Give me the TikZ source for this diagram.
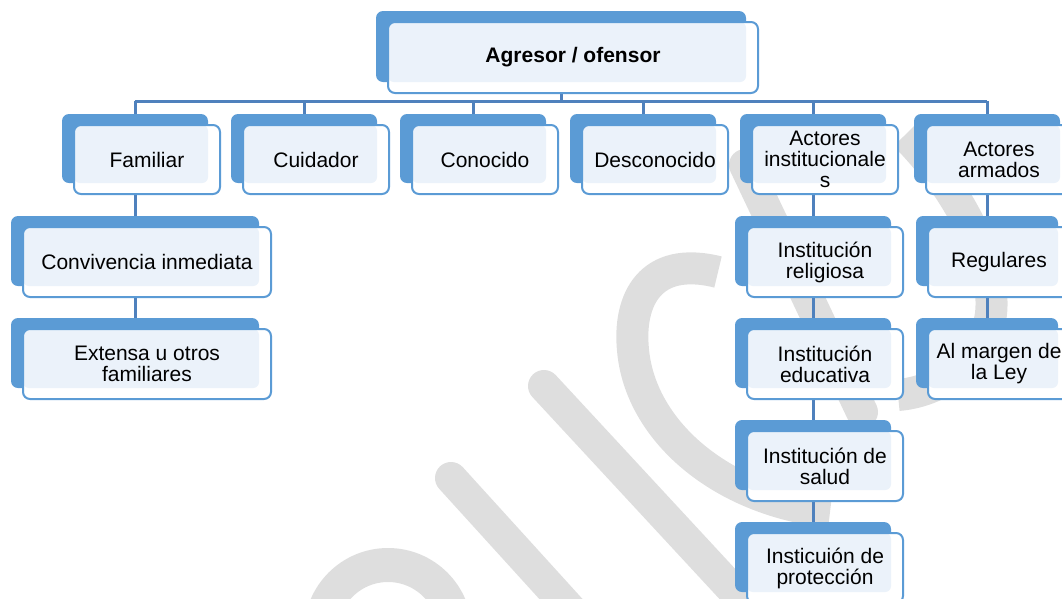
\documentclass[tikz,border=0pt]{standalone}
\usepackage{fontspec}
\setmainfont{Liberation Sans}
\usetikzlibrary{shadows,backgrounds}

\definecolor{boxblue}{HTML}{5B9BD5}
\definecolor{paleblue}{HTML}{EBF2FA}
\definecolor{linkblue}{HTML}{4F81BD}
\definecolor{wgray}{HTML}{DEDEDE}

\tikzset{
  orgbox/.style={draw=boxblue, line width=2pt, rounded corners=7pt,
    fill=white, align=center,
    minimum width=146pt, minimum height=69pt, inner sep=0pt,
    font=\fontsize{21}{21}\selectfont,
    path picture={\fill[paleblue, rounded corners=6pt]
      (path picture bounding box.north west) rectangle
      ([shift={(-12,-11)}]path picture bounding box.south east);},
    general shadow={fill=boxblue, draw=none,
      shadow xshift=-12pt, shadow yshift=11pt}},
  link/.style={draw=linkblue, line width=3pt},
  wband/.style={draw=wgray, line width=32pt}
}

\begin{document}
\begin{tikzpicture}[x=1pt,y=-1pt]
          \useasboundingbox (0,0) rectangle (1062,598);
          \clip (0,0) rectangle (1062,598);
          \node[orgbox, minimum width=370pt, minimum height=71pt, font=\bfseries\fontsize{21}{21}\selectfont] (agr) at (573,57.5) {Agresor / ofensor};
          \node[orgbox] (fam) at (147,159.5) {Familiar};
          \node[orgbox] (cui) at (316,159.5) {Cuidador};
          \node[orgbox] (con) at (485,159.5) {Conocido};
          \node[orgbox] (des) at (655,159.5) {Desconocido};
          \node[orgbox] (ins) at (825,159.5) {Actores\\institucionale\\s};
          \node[orgbox] (arm) at (999,159.5) {Actores\\armados};
          \node[orgbox, minimum width=248pt, minimum height=70pt] (conv) at (147,262) {Convivencia inmediata};
          \node[orgbox, minimum width=248pt, minimum height=70pt] (ext) at (147,364) {Extensa u otros\\familiares};
          \node[orgbox, minimum width=156pt, minimum height=70pt] (rel) at (825,262) {Institución\\religiosa};
          \node[orgbox, minimum width=156pt, minimum height=70pt] (edu) at (825,364) {Institución\\educativa};
          \node[orgbox, minimum width=156pt, minimum height=70pt] (sal) at (825,466) {Institución de\\salud};
          \node[orgbox, minimum width=156pt, minimum height=70pt] (pro) at (825,568) {Insticuión de\\protección};
          \node[orgbox, minimum width=142pt, minimum height=70pt] (reg) at (999,262) {Regulares};
          \node[orgbox, minimum width=142pt, minimum height=70pt] (mar) at (999,364) {Al margen de\\la Ley};
          \begin{scope}[on background layer]
            \draw[wband, line cap=round] (544,386) -- (770,630);
            \draw[wband, line cap=round] (451,478) -- (580,620);
            \draw[wband, line width=34pt] (388,632) circle (67);
            \draw[wband] (718,272) .. controls (650,255) and (628,300) .. (633,350)
              .. controls (640,430) and (720,500) .. (830,512);
            \draw[wband, line cap=round] (745,165) -- (862,412);
            \draw[wband] (905,135) .. controls (960,190) and (1000,270) .. (990,320)
              .. controls (978,368) and (935,392) .. (898,395);
            \foreach \n in {agr,fam,cui,con,des,ins,arm,conv,ext,rel,edu,sal,pro,reg,mar}
              \coordinate (\n-s) at ([shift={(-12,-11)}]\n.center);
            \coordinate (bar) at (0,101);
            \draw[link] (agr-s) -- (agr-s |- bar);
            \draw[link] (fam-s |- bar) -- (arm-s |- bar);
            \foreach \n in {fam,cui,con,des,ins,arm}
              \draw[link] (\n-s |- bar) -- (\n-s);
            \draw[link] (fam-s) -- (ext-s);
            \draw[link] (ins-s) -- (pro-s);
            \draw[link] (arm-s) -- (mar-s);
          \end{scope}
        \end{tikzpicture}
\end{document}
